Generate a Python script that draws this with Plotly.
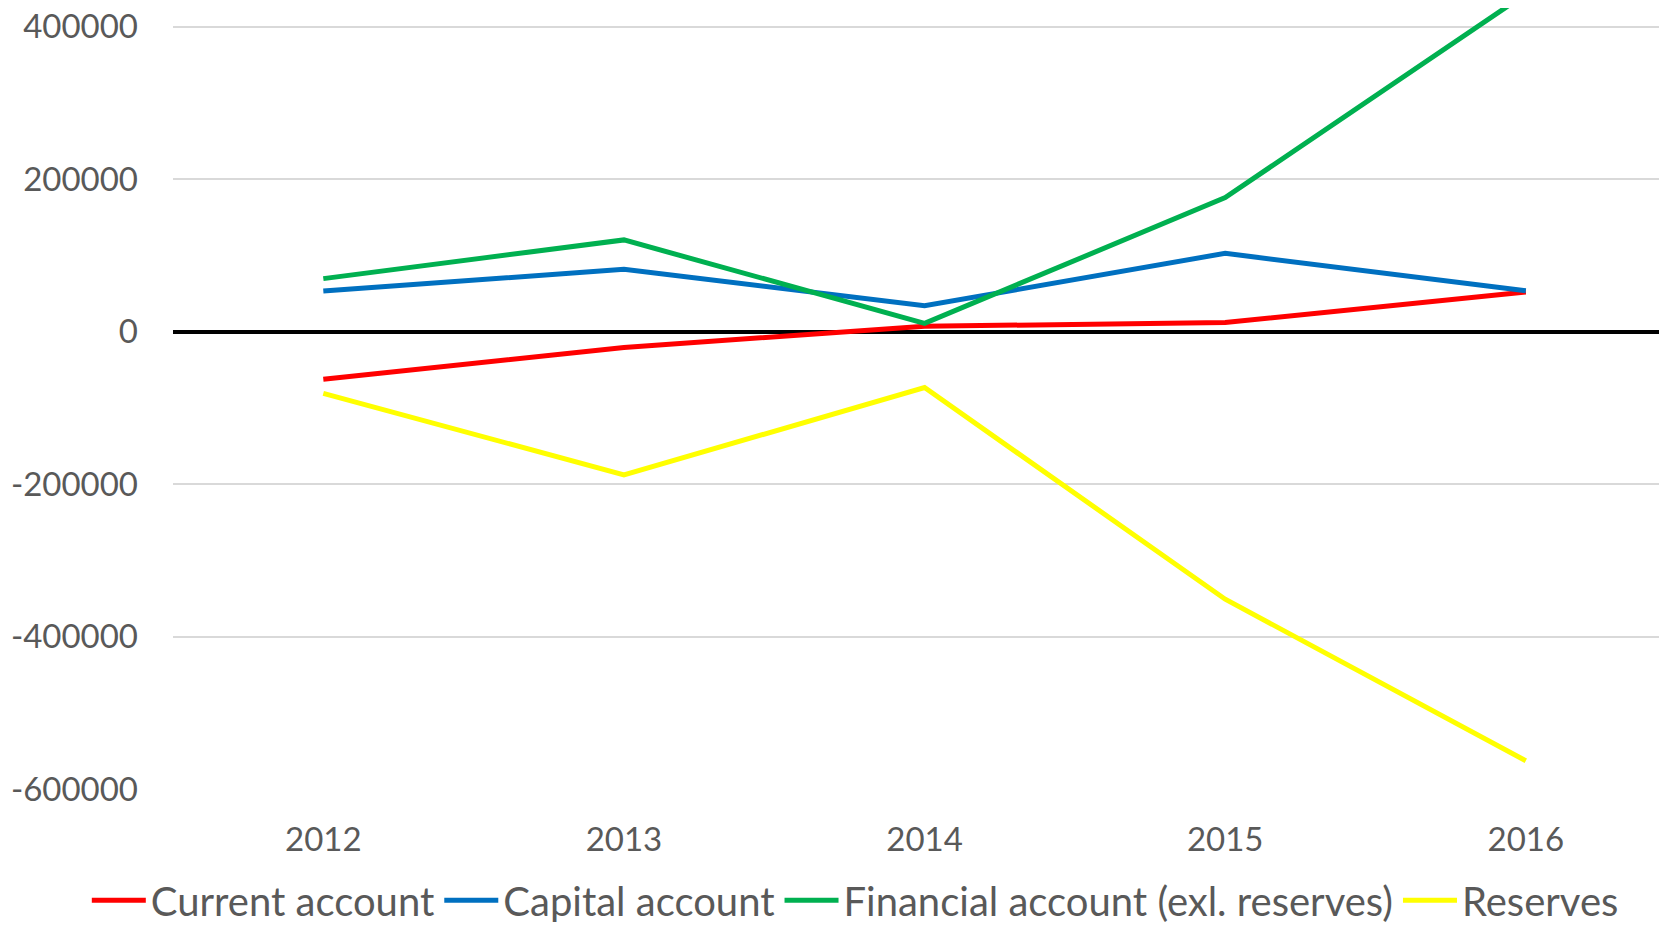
import plotly.graph_objects as go

years = ["2012", "2013", "2014", "2015", "2016"]
current_account = [-62500, -20800, 7000, 11900, 52000]
capital_account = [53300, 81700, 34000, 102700, 53500]
financial_account = [69500, 120300, 10900, 175800, 443000]
reserves = [-81000, -188000, -73400, -351000, -563000]

y_tickvals = [-600000, -400000, -200000, 0, 200000, 400000]
y_ticktext = ["-600000", "-400000", "-200000", "0", "200000", "400000"]

series = [
    ("Current account", current_account, "#FF0000"),
    ("Capital account", capital_account, "#0070C0"),
    ("Financial account (exl. reserves)", financial_account, "#00B050"),
    ("Reserves", reserves, "#FFFF00"),
]

fig = go.Figure()
for name, vals, color in series:
    fig.add_trace(go.Scatter(
        x=years, y=vals, name=name, mode="lines",
        line=dict(color=color, width=5),
    ))

font_family = "Lato"
fig.update_layout(
    template="none",
    width=1651, height=914,
    paper_bgcolor="white", plot_bgcolor="white",
    margin=dict(l=165, r=0, t=0, b=133, autoexpand=False),
    font=dict(family=font_family, color="#595959", size=33),
    showlegend=True,
    legend=dict(
        orientation="h",
        xref="paper", yref="paper",
        x=-0.058, y=-0.1425, xanchor="left", yanchor="middle",
        font=dict(size=40, color="#595959", family=font_family),
        itemwidth=54,
        bgcolor="rgba(0,0,0,0)",
    ),
    xaxis=dict(
        type="category",
        range=[-0.5, 4.443],
        showgrid=False, zeroline=False, showline=False,
        ticks="", automargin=False,
        ticklabelstandoff=28,
        ticklabeloverflow="allow",
        tickfont=dict(size=33, color="#595959"),
    ),
    yaxis=dict(
        range=[-600000, 424500],
        tickvals=y_tickvals, ticktext=y_ticktext,
        showgrid=True, gridcolor="#D9D9D9", gridwidth=1.5,
        zeroline=True, zerolinecolor="#000000", zerolinewidth=3.5,
        showline=False, ticks="", automargin=False,
        ticklabelstandoff=34,
        ticklabeloverflow="allow",
        tickfont=dict(size=33, color="#595959"),
    ),
)

fig.write_html("out.html")
